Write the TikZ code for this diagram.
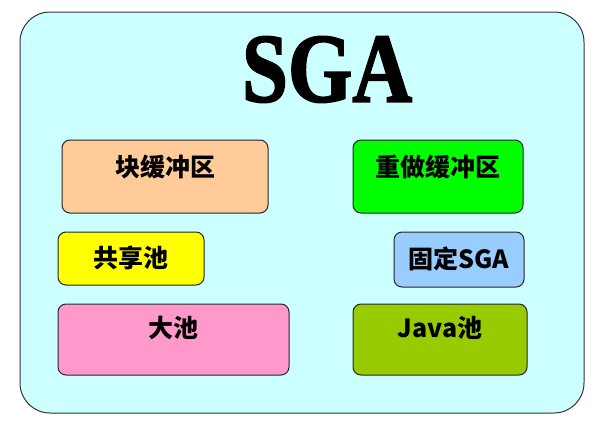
\documentclass[tikz,border=0pt]{standalone}
\usepackage{fontspec}
\usepackage{graphicx}
\usepackage{tikz}
\newfontfamily\cjk{Noto Sans CJK SC}
\newfontfamily\titlefont{Liberation Serif}[BoldFeatures={FakeBold=2}]

\definecolor{sgacyan}{HTML}{CCFFFF}
\definecolor{bufpeach}{HTML}{FFCC99}
\definecolor{redogreen}{HTML}{00FF00}
\definecolor{sharedyellow}{HTML}{FFFF00}
\definecolor{fixedblue}{HTML}{99CCFF}
\definecolor{largepink}{HTML}{FF99CC}
\definecolor{javaolive}{HTML}{99CC00}

\tikzset{
  pool/.style={draw=black!85, line width=1pt, rounded corners=8pt,
    inner sep=0pt, font=\cjk\bfseries\fontsize{25}{25}\selectfont, text height=22pt},
}

\begin{document}
\begin{tikzpicture}[x=1pt,y=-1pt]
    \useasboundingbox (0,0) rectangle (596,421);

    \node (sga)    at (302,212.5) [draw=black!80, line width=1pt, fill=sgacyan, rounded corners=30pt,
                                   minimum width=564pt, minimum height=401pt] {};
    \node (title)  at (327,69.5)  [inner sep=0pt] {\resizebox{170pt}{65pt}{\titlefont\bfseries SGA}};

    \node (buffer) at (165,176.5) [pool, fill=bufpeach, minimum width=206pt, minimum height=73pt, text depth=23pt] {块缓冲区};
    \node (redo)   at (438,176.5) [pool, fill=redogreen, minimum width=170pt, minimum height=73pt, text depth=23pt] {重做缓冲区};
    \node (shared) at (131,258.5) [pool, fill=sharedyellow, minimum width=146pt, minimum height=53pt, text depth=4pt] {共享池};
    \node (fixed)  at (459,259.5) [pool, fill=fixedblue, minimum width=130pt, minimum height=55pt, text depth=4pt] {固定SGA};
    \node (large)  at (173.5,339.5) [pool, fill=largepink, minimum width=231pt, minimum height=71pt, text depth=27pt] {大池};
    \node (java)   at (440,339.5) [pool, fill=javaolive, minimum width=174pt, minimum height=71pt, text depth=27pt] {Java池};
\end{tikzpicture}
\end{document}
